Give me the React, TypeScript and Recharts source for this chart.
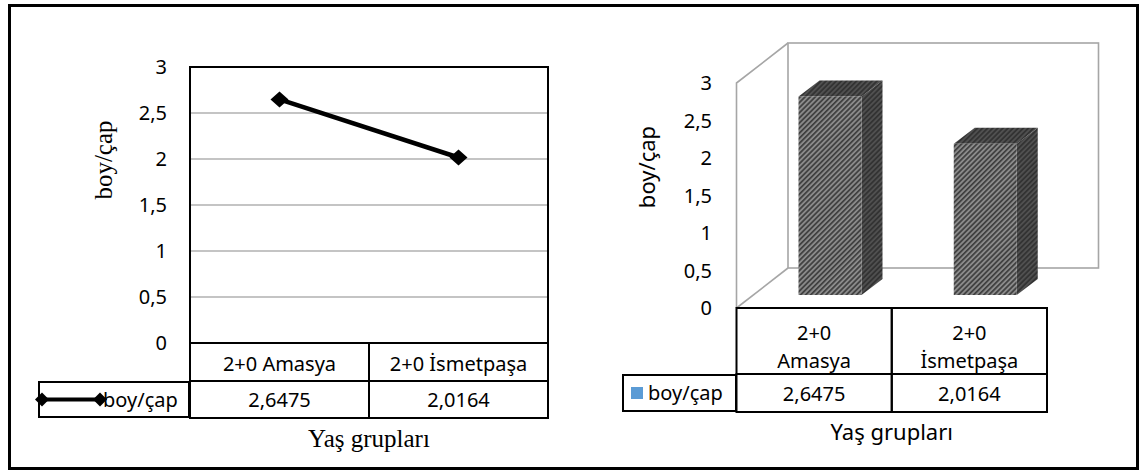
import React from "react";
import {
  Bar,
  BarChart,
  CartesianGrid,
  Legend,
  Line,
  LineChart,
  ReferenceArea,
  XAxis,
  YAxis,
} from "recharts";

const categories = ["2+0 Amasya", "2+0 İsmetpaşa"];
const boyCap = [2.6475, 2.0164];
const yTicks = [0, 0.5, 1, 1.5, 2, 2.5, 3];
const seriesName = "boy/çap";
const xTitle = "Yaş grupları";
const yTitle = "boy/çap";

const data = categories.map((name, i) => ({ name, value: boyCap[i] }));

const SANS = "'Noto Sans', sans-serif";
const SERIF = "'Liberation Serif', 'Times New Roman', serif";
const comma = (v: number) => String(v).replace(".", ",");
const valueOf = (name: string) => data.find((d) => d.name === name)?.value ?? 0;

// 3d offsets of the right chart (px)
const WALL_DX = 51.5;
const WALL_DY = -40;
const BAR_DX = 16;
const BAR_DY = -13;
const SIDE_DX = 21;
const SIDE_DY = -16;

const Diamond = ({ cx, cy, rx = 9, ry = 8, fill = "#000" }: any) => {
  if (cx == null || cy == null) return null;
  return (
    <polygon
      points={`${cx - rx},${cy} ${cx},${cy - ry} ${cx + rx},${cy} ${cx},${cy + ry}`}
      fill={fill}
    />
  );
};

const LeftTableTick = (props: any) => {
  const { x, y, payload, width, visibleTicksCount } = props;
  const colW = width && visibleTicksCount ? width / visibleTicksCount : 179;
  const left = x - colW / 2;
  const r1 = 38;
  const r2 = 37;
  return (
    <g>
      <rect x={left} y={y} width={colW} height={r1} fill="none" stroke="#000" strokeWidth={2} />
      <rect x={left} y={y + r1} width={colW} height={r2} fill="none" stroke="#000" strokeWidth={2} />
      <text x={x} y={y + r1 / 2 + 1} textAnchor="middle" dominantBaseline="central" fontFamily={SANS} fontSize={20} fill="#000">
        {payload.value}
      </text>
      <text x={x} y={y + r1 + r2 / 2} textAnchor="middle" dominantBaseline="central" fontFamily={SANS} fontSize={20} fill="#000">
        {comma(valueOf(payload.value))}
      </text>
    </g>
  );
};

const RightTableTick = (props: any) => {
  const { x, y, payload, width, visibleTicksCount } = props;
  const colW = width && visibleTicksCount ? width / visibleTicksCount : 155;
  const left = x - colW / 2;
  const r1 = 66;
  const r2 = 38;
  const name = String(payload.value);
  const cut = name.indexOf(" ");
  const lines = cut > 0 ? [name.slice(0, cut), name.slice(cut + 1)] : [name];
  return (
    <g>
      <rect x={left} y={y} width={colW} height={r1} fill="none" stroke="#000" strokeWidth={2} />
      <rect x={left} y={y + r1} width={colW} height={r2} fill="none" stroke="#000" strokeWidth={2} />
      {lines.map((t, i) => (
        <text key={i} x={x} y={y + 24 + i * 28} textAnchor="middle" dominantBaseline="central" fontFamily={SANS} fontSize={20} fill="#000">
          {t}
        </text>
      ))}
      <text x={x} y={y + r1 + r2 / 2} textAnchor="middle" dominantBaseline="central" fontFamily={SANS} fontSize={20} fill="#000">
        {comma(valueOf(payload.value))}
      </text>
    </g>
  );
};

const LineLegend = (props: any) => {
  const item = props.payload?.[0];
  const color = item?.color ?? "#000";
  return (
    <div
      style={{
        width: 152,
        height: 37,
        border: "2px solid #000",
        boxSizing: "border-box",
        position: "relative",
        background: "#fff",
        fontFamily: SANS,
        fontSize: 20,
        color: "#000",
      }}
    >
      <svg width={70} height={33} style={{ position: "absolute", left: 0, top: 0, overflow: "visible" }}>
        <line x1={2} x2={60} y1={16.5} y2={16.5} stroke={color} strokeWidth={4} />
        <Diamond cx={2} cy={16.5} rx={7} ry={7} fill={color} />
        <Diamond cx={60} cy={16.5} rx={7} ry={7} fill={color} />
      </svg>
      <span style={{ position: "absolute", left: 63, top: 0, lineHeight: "33px", whiteSpace: "nowrap" }}>
        {item?.value}
      </span>
    </div>
  );
};

const BoxLegend = (props: any) => {
  const item = props.payload?.[0];
  return (
    <div
      style={{
        width: 115,
        height: 38,
        border: "2px solid #000",
        boxSizing: "border-box",
        position: "relative",
        background: "#fff",
        fontFamily: SANS,
        fontSize: 20,
        color: "#000",
      }}
    >
      <div style={{ position: "absolute", left: 7, top: 11, width: 12, height: 12, background: item?.color ?? "#5B9BD5" }} />
      <span style={{ position: "absolute", left: 24, top: 0, lineHeight: "34px", whiteSpace: "nowrap" }}>
        {item?.value}
      </span>
    </div>
  );
};

const Walls = (p: any) => {
  const { x, y, width: w, height: h } = p;
  const bx = x + WALL_DX;
  const by = y + WALL_DY;
  return (
    <g fill="none" stroke="#a6a6a6" strokeWidth={1.6}>
      <rect x={bx} y={by} width={w} height={h} />
      <polyline points={`${x},${y + h} ${x},${y} ${bx},${by}`} />
      <line x1={x} y1={y + h} x2={bx} y2={by + h} />
    </g>
  );
};

const Bar3D = (p: any) => {
  const { x, y, width: w, height: h, index } = p;
  if (x == null || !h) return null;
  const fx = x + BAR_DX;
  const fy = y + BAR_DY;
  const id = `hatch${index}`;
  return (
    <g>
      <defs>
        <pattern id={`${id}f`} patternUnits="userSpaceOnUse" width={3.6} height={3.6} patternTransform="rotate(45)">
          <rect width={3.6} height={3.6} fill="#8a8a8a" />
          <rect width={1.7} height={3.6} fill="#3e3e3e" />
        </pattern>
        <pattern id={`${id}s`} patternUnits="userSpaceOnUse" width={3.6} height={3.6} patternTransform="rotate(45)">
          <rect width={3.6} height={3.6} fill="#505050" />
          <rect width={1.8} height={3.6} fill="#333" />
        </pattern>
      </defs>
      <polygon
        points={`${fx},${fy} ${fx + SIDE_DX},${fy + SIDE_DY} ${fx + w + SIDE_DX},${fy + SIDE_DY} ${fx + w},${fy}`}
        fill={`url(#${id}s)`}
      />
      <polygon
        points={`${fx + w},${fy} ${fx + w + SIDE_DX},${fy + SIDE_DY} ${fx + w + SIDE_DX},${fy + h + SIDE_DY} ${fx + w},${fy + h}`}
        fill={`url(#${id}s)`}
      />
      <rect x={fx} y={fy} width={w} height={h} fill={`url(#${id}f)`} />
    </g>
  );
};

const LeftChart = () => (
  <LineChart width={600} height={470} data={data} margin={{ top: 67, right: 52, bottom: 52, left: 130 }}>
    <CartesianGrid vertical={false} stroke="#b0b0b0" strokeWidth={1.3} />
    <ReferenceArea x1={categories[0]} x2={categories[1]} y1={0} y2={3} fill="none" stroke="#000" strokeWidth={2} />
    <XAxis
      dataKey="name"
      scale="band"
      height={75}
      interval={0}
      tickSize={0}
      tickMargin={0}
      axisLine={false}
      tickLine={false}
      tick={<LeftTableTick />}
      label={{
        content: (lp: any) => (
          <text
            x={lp.viewBox.x + lp.viewBox.width / 2}
            y={447}
            textAnchor="middle"
            fontFamily={SERIF}
            fontSize={25}
            fill="#000"
          >
            {xTitle}
          </text>
        ),
      }}
    />
    <YAxis
      domain={[0, 3]}
      ticks={yTicks}
      width={60}
      tickSize={0}
      tickMargin={23}
      axisLine={false}
      tickLine={false}
      tickFormatter={comma}
      tick={{ fill: "#000", fontSize: 20, fontFamily: SANS }}
      label={{
        content: () => (
          <text
            x={103}
            y={160}
            transform="rotate(-90 103 160)"
            textAnchor="middle"
            dominantBaseline="central"
            fontFamily={SERIF}
            fontSize={25}
            fill="#000"
          >
            {yTitle}
          </text>
        ),
      }}
    />
    <Legend
      layout="vertical"
      align="center"
      verticalAlign="middle"
      content={<LineLegend />}
      wrapperStyle={{ left: 38, top: 381, width: 152, height: 37 }}
    />
    <Line
      dataKey="value"
      name={seriesName}
      stroke="#000"
      strokeWidth={4.5}
      dot={(p: any) => <Diamond key={p.index} cx={p.cx} cy={p.cy} />}
      activeDot={false}
      isAnimationActive={false}
    />
  </LineChart>
);

const RightChart = () => (
  <BarChart width={559} height={470} data={data} barSize={63} margin={{ top: 83, right: 92, bottom: 58, left: 96.5 }}>
    <ReferenceArea x1={categories[0]} x2={categories[1]} y1={0} y2={3} shape={<Walls />} />
    <XAxis
      dataKey="name"
      height={104}
      interval={0}
      tickSize={0}
      tickMargin={0}
      axisLine={false}
      tickLine={false}
      tick={<RightTableTick />}
      label={{
        content: (lp: any) => (
          <text
            x={lp.viewBox.x + lp.viewBox.width / 2}
            y={440}
            textAnchor="middle"
            fontFamily={SANS}
            fontSize={22}
            fill="#000"
          >
            {xTitle}
          </text>
        ),
      }}
    />
    <YAxis
      domain={[0, 3]}
      ticks={yTicks}
      width={60}
      tickSize={0}
      tickMargin={24.5}
      axisLine={false}
      tickLine={false}
      tickFormatter={comma}
      tick={{ fill: "#000", fontSize: 20, fontFamily: SANS }}
      label={{
        content: () => (
          <text
            x={66}
            y={167}
            transform="rotate(-90 66 167)"
            textAnchor="middle"
            dominantBaseline="central"
            fontFamily={SANS}
            fontSize={22}
            fill="#000"
          >
            {yTitle}
          </text>
        ),
      }}
    />
    <Legend
      layout="vertical"
      align="center"
      verticalAlign="middle"
      content={<BoxLegend />}
      wrapperStyle={{ left: 42, top: 374, width: 115, height: 38 }}
    />
    <Bar dataKey="value" name={seriesName} fill="#5B9BD5" shape={<Bar3D />} isAnimationActive={false} />
  </BarChart>
);

export default function App() {
  return (
    <div style={{ position: "absolute", left: 0, top: 0, width: 1139, height: 470, background: "#fff" }}>
      <div
        style={{
          position: "absolute",
          left: 8,
          top: 4,
          width: 1131,
          height: 466,
          border: "3px solid #000",
          boxSizing: "border-box",
        }}
      />
      <div style={{ position: "absolute", left: 0, top: 0 }}>
        <LeftChart />
      </div>
      <div style={{ position: "absolute", left: 580, top: 0 }}>
        <RightChart />
      </div>
    </div>
  );
}
